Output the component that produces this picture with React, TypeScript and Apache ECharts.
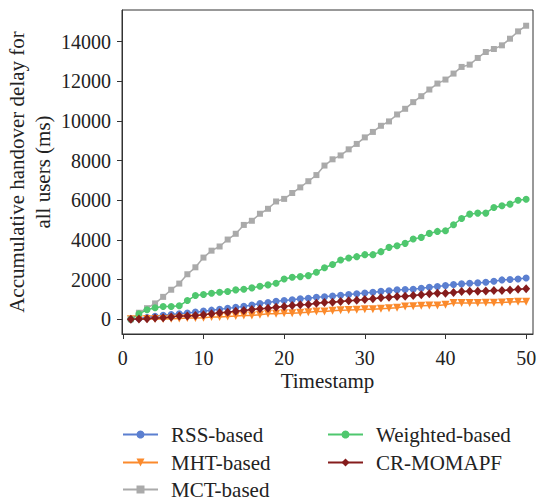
import React, { useEffect, useRef } from "react";
import * as echarts from "echarts";

const timestamps = [
  1, 2, 3, 4, 5, 6, 7, 8, 9, 10, 11, 12, 13, 14, 15, 16, 17, 18, 19, 20, 21, 22, 23, 24, 25,
  26, 27, 28, 29, 30, 31, 32, 33, 34, 35, 36, 37, 38, 39, 40, 41, 42, 43, 44, 45, 46, 47, 48, 49, 50,
];

const rssBased = [
  0, 40, 90, 150, 200, 240, 280, 320, 360, 410, 460, 510, 550, 600, 650, 720, 790, 850, 905, 946,
  980, 1030, 1064, 1114, 1130, 1170, 1214, 1248, 1290, 1323, 1365, 1406, 1440, 1482, 1499, 1516,
  1566, 1616, 1650, 1700, 1750, 1784, 1818, 1834, 1868, 1918, 1985, 2002, 2035, 2080,
];

const mhtBased = [
  0, 5, 10, 15, 20, 30, 40, 60, 65, 75, 110, 115, 145, 160, 190, 195, 226, 276, 276, 310, 310, 327,
  360, 394, 394, 430, 460, 470, 485, 500, 510, 530, 550, 585, 645, 661, 678, 695, 700, 729, 820,
  820, 822, 825, 828, 836, 850, 870, 880, 885,
];

const mctBased = [
  0, 330, 560, 800, 1130, 1490, 1800, 2270, 2620, 3110, 3459, 3670, 4020, 4310, 4757, 4966, 5320,
  5570, 5939, 6070, 6365, 6650, 6960, 7270, 7750, 8065, 8260, 8568, 8840, 9170, 9445, 9755, 9975,
  10326, 10611, 10946, 11247, 11583, 11884, 12085, 12387, 12722, 12839, 13174, 13476, 13627, 13811,
  14145, 14514, 14799,
];

const weightedBased = [
  0, 276, 477, 578, 645, 645, 678, 946, 1197, 1248, 1315, 1365, 1398, 1482, 1516, 1583, 1667, 1734,
  1818, 2035, 2119, 2152, 2202, 2370, 2600, 2760, 2990, 3090, 3157, 3258, 3258, 3409, 3626, 3710,
  3827, 4045, 4129, 4330, 4430, 4464, 4765, 5083, 5301, 5352, 5352, 5637, 5720, 5804, 6005, 6055,
];

const crMomapf = [
  0, 15, 30, 60, 75, 110, 160, 165, 193, 226, 276, 327, 360, 410, 444, 494, 528, 561, 611, 645, 695,
  729, 745, 812, 840, 862, 896, 930, 963, 997, 1030, 1080, 1114, 1147, 1164, 1197, 1231, 1281, 1315,
  1315, 1348, 1398, 1415, 1415, 1432, 1449, 1449, 1482, 1516, 1533,
];

const yTicks = [0, 2000, 4000, 6000, 8000, 10000, 12000, 14000];
const xTicks = [0, 10, 20, 30, 40, 50];

const seriesNames = ["RSS-based", "MHT-based", "MCT-based", "Weighted-based", "CR-MOMAPF"];

export default function App() {
  const ref = useRef<HTMLDivElement>(null);

  useEffect(() => {
    document.body.style.margin = "0";
    const chart = echarts.init(ref.current!, null, { renderer: "svg" });
    const font = "Liberation Serif, DejaVu Serif, serif";
    const fs = 20;
    const fsText = 21;

    const mk = (
      name: string,
      values: number[],
      color: string,
      symbol: string,
      symbolSize: number | number[],
      symbolRotate = 0
    ) => ({
      name,
      type: "line",
      data: timestamps.map((t, i) => [t, values[i]]),
      symbol,
      symbolSize,
      symbolRotate,
      showSymbol: true,
      lineStyle: { color, width: 1.5 },
      itemStyle: { color, borderWidth: 0 },
      emphasis: { disabled: true },
    });

    const legendPos = [
      { left: 122, top: 424 },
      { left: 122, top: 452 },
      { left: 122, top: 479 },
      { left: 327, top: 424 },
      { left: 327, top: 452 },
    ];

    chart.setOption({
      animation: false,
      grid: {
        left: 122,
        top: 10,
        right: 4,
        bottom: 167,
        show: true,
        borderColor: "#333",
        borderWidth: 1,
        backgroundColor: "transparent",
        containLabel: false,
        outerBoundsMode: "none",
      },
      xAxis: {
        type: "value",
        min: -0.1,
        max: 50.85,
        name: "Timestamp",
        nameLocation: "middle",
        nameGap: 36,
        nameMoveOverlap: false,
        nameTextStyle: { fontFamily: font, fontSize: fsText, color: "#222" },
        axisLine: { onZero: false, lineStyle: { color: "#333", width: 1 } },
        axisTick: { show: true, length: 5, lineStyle: { color: "#333" }, customValues: xTicks },
        axisLabel: {
          fontFamily: font,
          fontSize: fs,
          color: "#222",
          margin: 14,
          customValues: xTicks,
          formatter: (v: number) => String(v),
        },
        splitLine: { show: false },
      },
      yAxis: {
        type: "value",
        min: -742,
        max: 15592,
        name: "Accumulative handover delay for\nall users (ms)",
        nameLocation: "middle",
        nameGap: 66,
        nameMoveOverlap: false,
        nameTextStyle: { fontFamily: font, fontSize: fsText, color: "#222", lineHeight: 26 },
        axisLine: { onZero: false, lineStyle: { color: "#333", width: 1 } },
        axisTick: { show: true, length: 5, lineStyle: { color: "#333" }, customValues: yTicks },
        axisLabel: {
          fontFamily: font,
          fontSize: fs,
          color: "#222",
          margin: 11,
          customValues: yTicks,
          formatter: (v: number) => String(v),
        },
        splitLine: { show: false },
      },
      legend: seriesNames.map((n, i) => ({
        data: [n],
        orient: "horizontal",
        left: legendPos[i].left,
        top: legendPos[i].top,
        padding: 0,
        itemWidth: 35,
        itemHeight: 10,
        textStyle: { fontFamily: font, fontSize: fsText, color: "#222", padding: [0, 0, 0, 8] },
      })),
      series: [
        mk(seriesNames[0], rssBased, "#5b7fd0", "circle", 7),
        mk(seriesNames[1], mhtBased, "#fb8a2c", "triangle", 8, 180),
        mk(seriesNames[2], mctBased, "#aaaaaa", "rect", 6),
        mk(seriesNames[3], weightedBased, "#4fc76e", "circle", 7),
        mk(seriesNames[4], crMomapf, "#851c1c", "diamond", [8, 9]),
      ],
    });

    return () => chart.dispose();
  }, []);

  return <div ref={ref} style={{ width: 537, height: 501 }} />;
}
